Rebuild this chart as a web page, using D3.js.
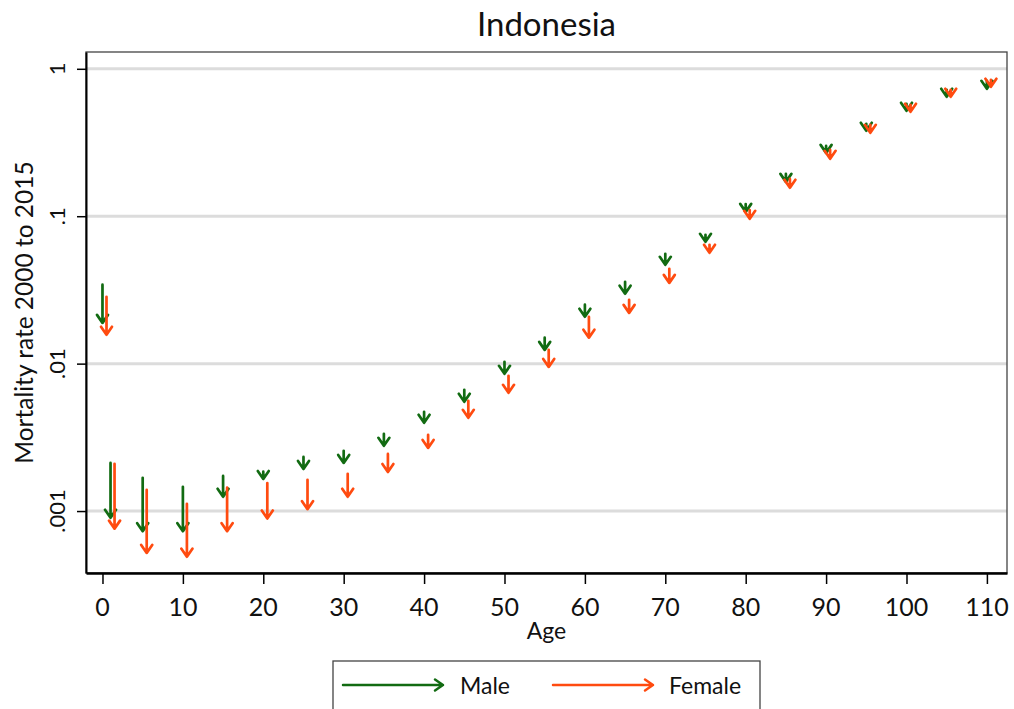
<!DOCTYPE html>
<html>
<head>
<meta charset="utf-8">
<script src="https://cdn.jsdelivr.net/npm/d3@7"></script>
<style>
  html, body { margin: 0; padding: 0; background: #fff; }
  svg { display: block; font-family: Lato, "Open Sans", sans-serif; }
</style>
</head>
<body>
<svg id="chart" width="1014" height="709"></svg>
<script>
// ---- data ----
const ages = [0, 1, 5, 10, 15, 20, 25, 30, 35, 40, 45, 50, 55, 60, 65, 70, 75, 80, 85, 90, 95, 100, 105, 110];
const male2000   = [0.0343, 0.00212, 0.00168, 0.00146, 0.00173, 0.00185, 0.00233, 0.00256, 0.00334, 0.00471, 0.00664, 0.0103, 0.0150, 0.0251, 0.0359, 0.0556, 0.0748, 0.121, 0.194, 0.300, 0.424, 0.579, 0.721, 0.829];
const male2015   = [0.0189, 0.00090, 0.00073, 0.00073, 0.00125, 0.00165, 0.00193, 0.00212, 0.00277, 0.00397, 0.00551, 0.00853, 0.0124, 0.0208, 0.0298, 0.0468, 0.0670, 0.107, 0.171, 0.269, 0.380, 0.519, 0.646, 0.731];
const female2000 = [0.0284, 0.00209, 0.00139, 0.00112, 0.00144, 0.00155, 0.00163, 0.00179, 0.00244, 0.00329, 0.00560, 0.00827, 0.0124, 0.0208, 0.0271, 0.0440, 0.0640, 0.110, 0.179, 0.282, 0.417, 0.570, 0.720, 0.842];
const female2015 = [0.0157, 0.00076, 0.00052, 0.00049, 0.00073, 0.00089, 0.00103, 0.00125, 0.00184, 0.00268, 0.00429, 0.00634, 0.0095, 0.0150, 0.0221, 0.0353, 0.0565, 0.096, 0.156, 0.245, 0.368, 0.511, 0.646, 0.755];
const femaleOffset = 0.5; // female arrows drawn half a year to the right
const xTicks = [0, 10, 20, 30, 40, 50, 60, 70, 80, 90, 100, 110];
const yTicks = [0.001, 0.01, 0.1, 1];
const yTickLabels = [".001", ".01", ".1", "1"];
const seriesNames = ["Male", "Female"];
const titleText = "Indonesia";
const xTitle = "Age";
const yTitle = "Mortality rate 2000 to 2015";

// ---- layout ----
const colors = { Male: "#126b12", Female: "#ff4b10" };
const plot = { left: 86, right: 1007, top: 52, bottom: 573 };

const svg = d3.select("#chart");

const x = d3.scaleLinear().domain([-2.05, 112.5]).range([plot.left, plot.right]);
const y = d3.scaleLog().domain([0.00038, 1.3]).range([plot.bottom, plot.top]);

// gridlines
svg.append("g").selectAll("line").data(yTicks).join("line")
  .attr("x1", plot.left).attr("x2", plot.right)
  .attr("y1", d => y(d)).attr("y2", d => y(d))
  .attr("stroke", "#dcdcdc").attr("stroke-width", 3);

// plot frame
svg.append("rect")
  .attr("x", plot.left).attr("y", plot.top)
  .attr("width", plot.right - plot.left).attr("height", plot.bottom - plot.top)
  .attr("fill", "none").attr("stroke", "#444").attr("stroke-width", 1.3);

// axes
const yAxis = d3.axisLeft(y).tickValues(yTicks).tickSizeInner(9).tickSizeOuter(0).tickFormat("");
const gy = svg.append("g").attr("transform", `translate(${plot.left},0)`).call(yAxis);
gy.select(".domain").attr("stroke", "#000").attr("stroke-width", 2);
gy.selectAll(".tick line").attr("stroke", "#000").attr("stroke-width", 1.5);

const xAxis = d3.axisBottom(x).tickValues(xTicks).tickSizeInner(11).tickSizeOuter(0).tickFormat("");
const gx = svg.append("g").attr("transform", `translate(0,${plot.bottom})`).call(xAxis);
gx.select(".domain").attr("stroke", "#000").attr("stroke-width", 2.5);
gx.selectAll(".tick line").attr("stroke", "#000").attr("stroke-width", 1.5);

// y tick labels (rotated)
svg.append("g").selectAll("text").data(yTicks).join("text")
  .attr("transform", d => `translate(65,${y(d)}) rotate(-90)`)
  .attr("text-anchor", "middle")
  .attr("font-size", 22)
  .attr("fill", "#111")
  .text((d, i) => yTickLabels[i]);

// x tick labels
svg.append("g").selectAll("text").data(xTicks).join("text")
  .attr("x", d => x(d)).attr("y", 616)
  .attr("text-anchor", "middle")
  .attr("font-size", 25)
  .attr("fill", "#111")
  .text(d => d);

// titles
svg.append("text").attr("x", (plot.left + plot.right) / 2).attr("y", 36)
  .attr("text-anchor", "middle").attr("font-size", 33).attr("fill", "#111").text(titleText);
svg.append("text").attr("x", (plot.left + plot.right) / 2).attr("y", 639)
  .attr("text-anchor", "middle").attr("font-size", 23).attr("fill", "#111").text(xTitle);
svg.append("text").attr("transform", `translate(33,${(plot.top + plot.bottom) / 2}) rotate(-90)`)
  .attr("text-anchor", "middle").attr("font-size", 24.5).attr("fill", "#111").text(yTitle);

// arrow drawing helper
function arrowPath(x1, y1, x2, y2, len, half) {
  const dx = x2 - x1, dy = y2 - y1;
  const L = Math.hypot(dx, dy) || 1;
  const ux = dx / L, uy = dy / L;
  const bx = x2 - ux * len, by = y2 - uy * len;
  const px = -uy * half, py = ux * half;
  return `M${x1},${y1}L${x2},${y2}M${bx + px},${by + py}L${x2},${y2}L${bx - px},${by - py}`;
}

const maleData = ages.map((a, i) => ({ age: a, from: male2000[i], to: male2015[i] }));
const femaleData = ages.map((a, i) => ({ age: a + femaleOffset, from: female2000[i], to: female2015[i] }));

[["Male", maleData], ["Female", femaleData]].forEach(([name, data]) => {
  svg.append("g").selectAll("path").data(data).join("path")
    .attr("d", d => arrowPath(x(d.age), y(d.from), x(d.age), y(d.to), 8, 5.5))
    .attr("fill", "none")
    .attr("stroke", colors[name])
    .attr("stroke-width", 2.7)
    .attr("stroke-linecap", "round")
    .attr("stroke-linejoin", "round");
});

// legend
const lg = svg.append("g");
lg.append("rect").attr("x", 333).attr("y", 661).attr("width", 427).attr("height", 70)
  .attr("fill", "#fff").attr("stroke", "#444").attr("stroke-width", 1.3);
const legendItems = [
  { name: seriesNames[0], x1: 343, x2: 443, tx: 460 },
  { name: seriesNames[1], x1: 553, x2: 653, tx: 669 }
];
legendItems.forEach(it => {
  lg.append("path").attr("d", arrowPath(it.x1, 685, it.x2, 685, 8, 5.5))
    .attr("fill", "none").attr("stroke", colors[it.name]).attr("stroke-width", 2.5)
    .attr("stroke-linecap", "round").attr("stroke-linejoin", "round");
  lg.append("text").attr("x", it.tx).attr("y", 694).attr("font-size", 23).attr("fill", "#111").text(it.name);
});
</script>
</body>
</html>
